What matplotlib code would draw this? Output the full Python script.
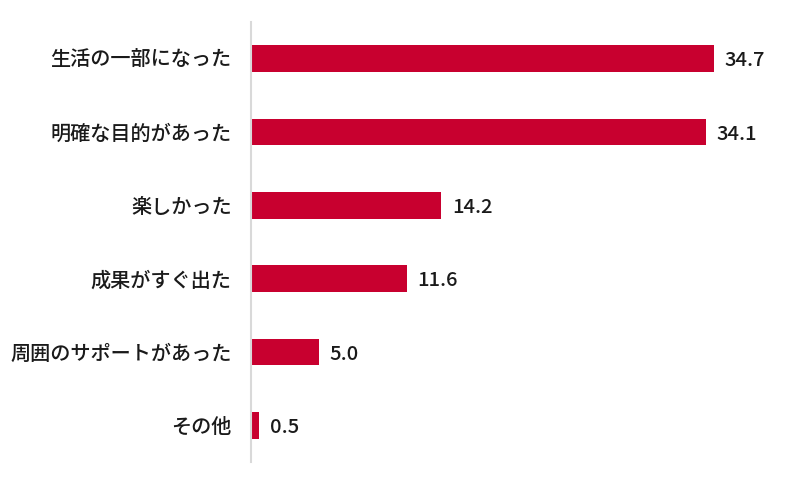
import matplotlib
matplotlib.use("Agg")
import matplotlib.pyplot as plt

plt.rcParams['font.family'] = ['Noto Sans CJK JP', 'DejaVu Sans']

categories = ['生活の一部になった', '明確な目的があった', '楽しかった',
              '成果がすぐ出た', '周囲のサポートがあった', 'その他']
values = [34.7, 34.1, 14.2, 11.6, 5.0, 0.5]

bar_color = '#C8002F'
text_color = '#1a1a1a'

fig = plt.figure(figsize=(8.06, 4.83), dpi=100)
ax = fig.add_axes([251 / 806, 1 - 462 / 483, 532 / 806, 440 / 483])

pos = list(range(len(categories)))
ax.barh(pos, values, height=0.36, color=bar_color, left=0.1)
for p, v in zip(pos, values):
    ax.text(v + 0.1 + 0.8, p + 0.03, f'{v:.1f}', va='center', ha='left',
            fontsize=14.5, fontweight='medium', color=text_color)

ax.set_xlim(0, 40)
ax.set_ylim(len(categories) - 0.5, -0.5)
ax.set_yticks(pos)
ax.set_yticklabels(categories, fontsize=14.5, fontweight='medium', color=text_color)
ax.tick_params(axis='y', length=0, pad=14)
ax.set_xticks([])

for s in ['top', 'right', 'bottom']:
    ax.spines[s].set_visible(False)
ax.spines['left'].set_color('#d9d9d9')
ax.spines['left'].set_linewidth(1.5)

fig.savefig('out.png', dpi=100)
